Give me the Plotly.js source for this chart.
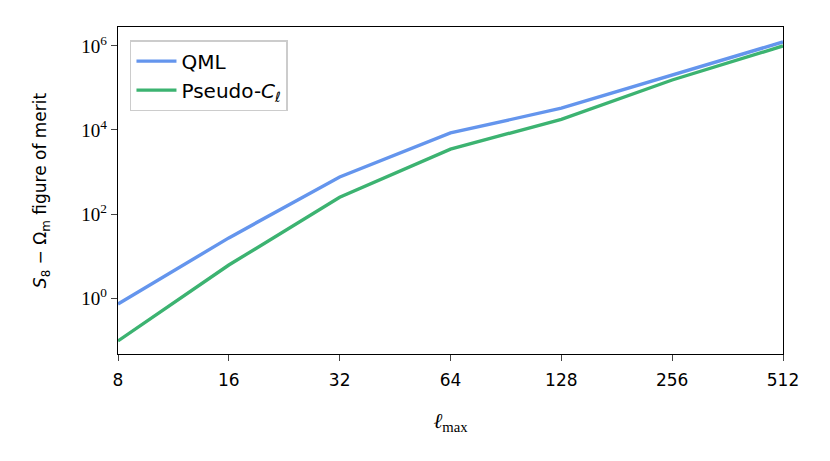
<!DOCTYPE html>
<html>
<head>
<meta charset="utf-8">
<script src="https://cdn.plot.ly/plotly-3.0.1.min.js"></script>
<style>
  html, body { margin: 0; padding: 0; background: #fff; }
  #fom-plot { width: 830px; height: 461px; }
</style>
</head>
<body>
<div id="fom-plot"></div>
<script>
FOMPLOT = document.getElementById("fom-plot");

var lmax = [8, 16, 32, 64, 128, 256, 512];
var qmlFom = [0.72, 27, 760, 8500, 33000, 200000, 1250000];
var pseudoClFom = [0.095, 6.1, 250, 3500, 18000, 155000, 1000000];

var yTickVals = [1, 100, 10000, 1000000];
var yTickText = ["10<sup>0</sup>", "10<sup>2</sup>", "10<sup>4</sup>", "10<sup>6</sup>"];

var data = [
    {
        x: lmax,
        y: qmlFom,
        name: "QML",
        mode: 'lines',
        type: 'scatter',
        line: { color: '#6495ED', width: 3.4 },
    },
    {
        x: lmax,
        y: pseudoClFom,
        name: "Pseudo-<i>C</i><sub>ℓ</sub>",
        mode: 'lines',
        type: 'scatter',
        line: { color: '#3CB371', width: 3.4 },
    },
];

var layout = {
    width: 830,
    height: 461,
    margin: { l: 118, r: 47, t: 27, b: 107 },
    paper_bgcolor: 'white',
    plot_bgcolor: 'white',
    font: { family: 'DejaVu Sans, sans-serif', size: 16, color: 'black' },
    showlegend: true,
    legend: {
        x: 0.018, y: 0.96,
        xanchor: 'left', yanchor: 'top',
        bgcolor: 'rgba(255,255,255,0.8)',
        bordercolor: '#cccccc',
        borderwidth: 1.5,
        font: { size: 20 },
        itemwidth: 40,
        entrywidth: 200,
    },
    xaxis: {
        type: 'log',
        range: [Math.log10(8), Math.log10(512)],
        tickvals: lmax,
        ticktext: lmax.map(String),
        ticks: 'outside',
        ticklen: 6,
        tickwidth: 1,
        ticklabelstandoff: 4,
        showgrid: false,
        zeroline: false,
        showline: true,
        mirror: true,
        linecolor: 'black',
        linewidth: 1.2,
        tickfont: { family: 'DejaVu Sans, sans-serif', size: 17 },
        title: { text: "<i>ℓ</i><sub>max</sub>", font: { family: 'Liberation Serif, serif', size: 21 }, standoff: 24 },
    },
    yaxis: {
        type: 'log',
        range: [-1.333, 6.452],
        tickvals: yTickVals,
        ticktext: yTickText,
        ticks: 'outside',
        ticklen: 6,
        tickwidth: 1,
        showgrid: false,
        zeroline: false,
        showline: true,
        mirror: true,
        linecolor: 'black',
        linewidth: 1.2,
        tickfont: { family: 'Liberation Serif, serif', size: 19 },
        title: { text: "<i>S</i><sub>8</sub> − Ω<sub>m</sub> figure of merit", font: { family: 'DejaVu Sans, sans-serif', size: 17 }, standoff: 30 },
    },
};

var config = { responsive: false, displayModeBar: false, staticPlot: true };
Plotly.newPlot(FOMPLOT, data, layout, config);
</script>
</body>
</html>
